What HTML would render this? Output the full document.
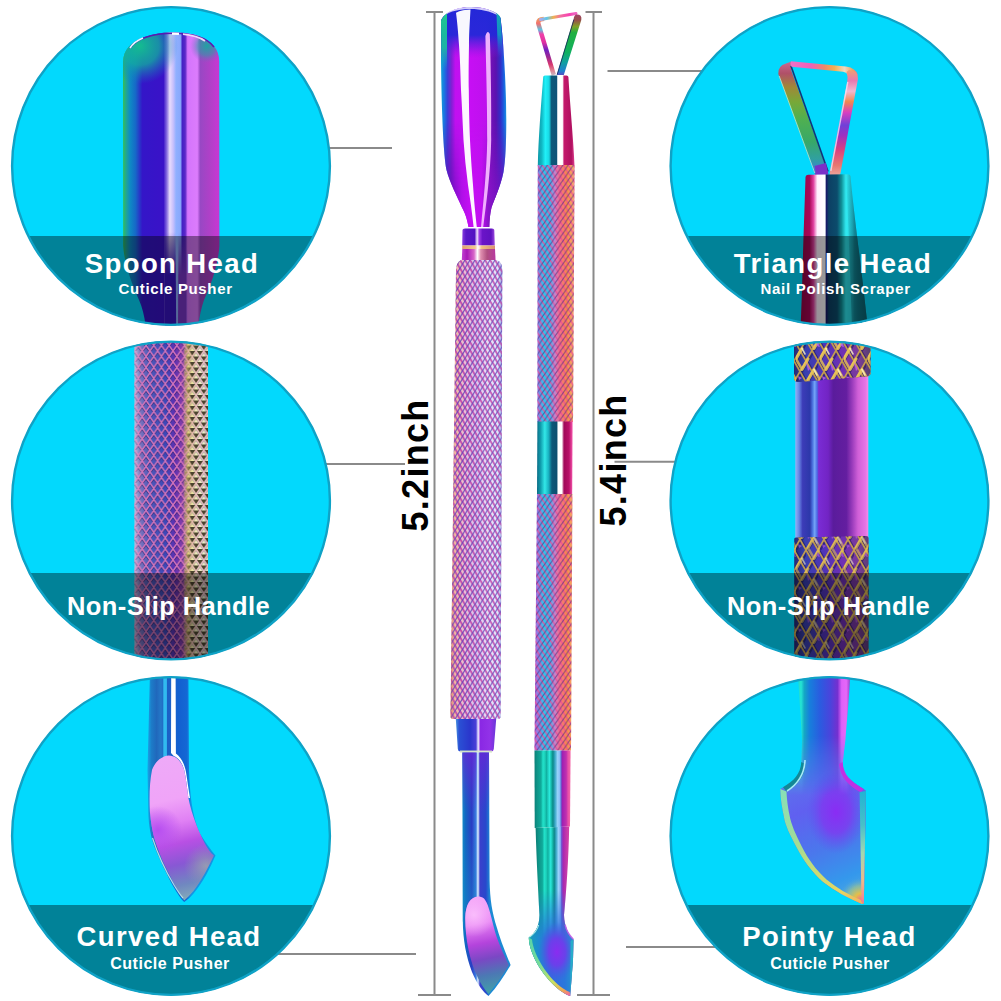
<!DOCTYPE html>
<html>
<head>
<meta charset="utf-8">
<style>
html,body{margin:0;padding:0;background:#fff;}
body{width:1001px;height:1001px;overflow:hidden;font-family:"Liberation Sans",sans-serif;}
svg{display:block;}
text{font-family:"Liberation Sans",sans-serif;font-weight:bold;}
.t1{font-size:27.5px;fill:#fff;letter-spacing:1.4px;}
.t2{font-size:15px;fill:#fff;letter-spacing:0.65px;}
.t2b{font-size:16px;fill:#fff;letter-spacing:0.55px;}
.t2c{font-size:15px;fill:#fff;letter-spacing:0.72px;}
.t3{font-size:25.5px;fill:#fff;letter-spacing:0.42px;}
.tm{font-size:36px;fill:#000;letter-spacing:1.3px;}
.ln{stroke:#8a8a8a;stroke-width:2;fill:none;}
</style>
</head>
<body>
<svg width="1001" height="1001" viewBox="0 0 1001 1001">
<defs>
<clipPath id="c1"><circle cx="171" cy="166" r="159.5"/></clipPath>
<clipPath id="c2"><circle cx="171" cy="500.5" r="159.5"/></clipPath>
<clipPath id="c3"><circle cx="171" cy="836" r="159.5"/></clipPath>
<clipPath id="c4"><circle cx="829.5" cy="166" r="159.5"/></clipPath>
<clipPath id="c5"><circle cx="829.5" cy="500.5" r="159.5"/></clipPath>
<clipPath id="c6"><circle cx="829.5" cy="836" r="159.5"/></clipPath>
<!-- spoon head -->
<linearGradient id="gSpoonH" gradientUnits="userSpaceOnUse" x1="441" y1="0" x2="506.5" y2="0">
<stop offset="0" stop-color="#14a0d8"/><stop offset="0.05" stop-color="#1a74e2"/><stop offset="0.1" stop-color="#3a40d8"/>
<stop offset="0.16" stop-color="#8020d4"/><stop offset="0.22" stop-color="#c010f0"/><stop offset="0.45" stop-color="#c60ff4"/>
<stop offset="0.69" stop-color="#be10ee"/><stop offset="0.74" stop-color="#7a10b8"/><stop offset="0.84" stop-color="#5a12b0"/>
<stop offset="0.91" stop-color="#3030c8"/><stop offset="0.96" stop-color="#1a60e0"/><stop offset="1" stop-color="#1a98e0"/>
</linearGradient>
<linearGradient id="gSpoonV" gradientUnits="userSpaceOnUse" x1="0" y1="7" x2="0" y2="58">
<stop offset="0" stop-color="#2428d8" stop-opacity="1"/><stop offset="0.55" stop-color="#2428d8" stop-opacity="0.96"/>
<stop offset="0.78" stop-color="#5020dc" stop-opacity="0.5"/><stop offset="1" stop-color="#8a18e0" stop-opacity="0"/>
</linearGradient>
<linearGradient id="gSpoonG" gradientUnits="userSpaceOnUse" x1="0" y1="14" x2="0" y2="70">
<stop offset="0" stop-color="#20c890" stop-opacity="1"/><stop offset="0.6" stop-color="#18c0a0" stop-opacity="0.9"/><stop offset="1" stop-color="#18b0c0" stop-opacity="0"/>
</linearGradient>
<linearGradient id="gNeckR" gradientUnits="userSpaceOnUse" x1="0" y1="885" x2="0" y2="925">
<stop offset="0" stop-color="#2090d8" stop-opacity="0"/><stop offset="1" stop-color="#1c90d0" stop-opacity="0.7"/>
</linearGradient>
<linearGradient id="gCollarA" gradientUnits="userSpaceOnUse" x1="462" y1="0" x2="495" y2="0">
<stop offset="0" stop-color="#8a40e0"/><stop offset="0.12" stop-color="#5a18c8"/><stop offset="0.38" stop-color="#5212c2"/>
<stop offset="0.46" stop-color="#f4e8ff"/><stop offset="0.52" stop-color="#a040e8"/><stop offset="0.62" stop-color="#6a14c8"/>
<stop offset="0.88" stop-color="#6012c0"/><stop offset="1" stop-color="#a050e0"/>
</linearGradient>
<linearGradient id="gRing" gradientUnits="userSpaceOnUse" x1="462" y1="0" x2="495" y2="0">
<stop offset="0" stop-color="#e0a070"/><stop offset="0.4" stop-color="#f0c890"/><stop offset="0.48" stop-color="#ffffff"/>
<stop offset="0.6" stop-color="#f0c080"/><stop offset="1" stop-color="#d89070"/>
</linearGradient>
<linearGradient id="gCollarB" gradientUnits="userSpaceOnUse" x1="462" y1="0" x2="495.5" y2="0">
<stop offset="0" stop-color="#c040d0"/><stop offset="0.15" stop-color="#a818b8"/><stop offset="0.36" stop-color="#d868c8"/>
<stop offset="0.46" stop-color="#ffffff"/><stop offset="0.56" stop-color="#e090b0"/><stop offset="0.75" stop-color="#b05080"/>
<stop offset="1" stop-color="#b838a0"/>
</linearGradient>
<linearGradient id="gHandL" gradientUnits="userSpaceOnUse" x1="450" y1="0" x2="503" y2="0">
<stop offset="0" stop-color="#e09070"/><stop offset="0.1" stop-color="#f0b8a0"/><stop offset="0.28" stop-color="#e8c0d8"/>
<stop offset="0.5" stop-color="#d8c0ec"/><stop offset="0.72" stop-color="#e4dcf4"/><stop offset="0.9" stop-color="#dce4fc"/>
<stop offset="1" stop-color="#98a4e0"/>
</linearGradient>
<linearGradient id="gHandLshade" gradientUnits="userSpaceOnUse" x1="450" y1="0" x2="503" y2="0">
<stop offset="0" stop-color="#c06040" stop-opacity="0.25"/><stop offset="0.15" stop-color="#fff" stop-opacity="0"/>
<stop offset="0.7" stop-color="#fff" stop-opacity="0.12"/><stop offset="0.9" stop-color="#fff" stop-opacity="0.1"/>
<stop offset="1" stop-color="#6070c0" stop-opacity="0.25"/>
</linearGradient>
<pattern id="pKnurlL" patternUnits="userSpaceOnUse" width="5" height="8.2" patternTransform="translate(450 260)">
<path d="M-1 -1.64 L6 9.84 M-6 -1.64 L1 9.84 M4 -1.64 L11 9.84" stroke="#c040a8" stroke-width="1.9" fill="none" opacity="0.9"/>
<path d="M6 -1.64 L-1 9.84 M1 -1.64 L-6 9.84 M11 -1.64 L4 9.84" stroke="#6040b8" stroke-width="1.25" fill="none" opacity="0.85"/>
</pattern>
<linearGradient id="gLowCollar" gradientUnits="userSpaceOnUse" x1="456" y1="0" x2="496" y2="0">
<stop offset="0" stop-color="#4a90e0"/><stop offset="0.08" stop-color="#2a50d4"/><stop offset="0.35" stop-color="#2a36cc"/>
<stop offset="0.5" stop-color="#4a40d8"/><stop offset="0.555" stop-color="#f0f0ff"/><stop offset="0.61" stop-color="#8a28e4"/>
<stop offset="0.85" stop-color="#9232e8"/><stop offset="1" stop-color="#6a38d8"/>
</linearGradient>
<linearGradient id="gShaftL" gradientUnits="userSpaceOnUse" x1="462" y1="0" x2="490" y2="0">
<stop offset="0" stop-color="#1590c8"/><stop offset="0.12" stop-color="#1268c2"/><stop offset="0.35" stop-color="#2a3cc4"/>
<stop offset="0.5" stop-color="#3a7ee0"/><stop offset="0.57" stop-color="#e4f4ff"/><stop offset="0.64" stop-color="#3a40cc"/>
<stop offset="0.85" stop-color="#2848cc"/><stop offset="1" stop-color="#1c8ad4"/>
</linearGradient>
<linearGradient id="gCurvedFace" gradientUnits="userSpaceOnUse" x1="474" y1="896" x2="494" y2="994">
<stop offset="0" stop-color="#f4a4f8"/><stop offset="0.28" stop-color="#e884f4"/><stop offset="0.48" stop-color="#b444dc"/>
<stop offset="0.64" stop-color="#7a48c4"/><stop offset="0.8" stop-color="#4c78b4"/><stop offset="1" stop-color="#40a4a8"/>
</linearGradient>
<radialGradient id="gCurvedFace2" gradientUnits="userSpaceOnUse" cx="474" cy="915" r="22">
<stop offset="0" stop-color="#ffd0ff" stop-opacity="0.7"/><stop offset="1" stop-color="#ffd0ff" stop-opacity="0"/>
</radialGradient>
<!-- triangle tool -->
<linearGradient id="gTriL" gradientUnits="userSpaceOnUse" x1="0" y1="18" x2="0" y2="76">
<stop offset="0" stop-color="#f0a060"/><stop offset="0.1" stop-color="#f07070"/><stop offset="0.2" stop-color="#60c0e0"/>
<stop offset="0.28" stop-color="#f040a8"/><stop offset="0.42" stop-color="#e030a0"/><stop offset="0.55" stop-color="#7020c0"/>
<stop offset="0.68" stop-color="#a02890"/><stop offset="0.8" stop-color="#d83870"/><stop offset="0.9" stop-color="#e08090"/>
<stop offset="1" stop-color="#c0c0c8"/>
</linearGradient>
<linearGradient id="gTriTop" gradientUnits="userSpaceOnUse" x1="540" y1="0" x2="574" y2="0">
<stop offset="0" stop-color="#b0a8e8"/><stop offset="0.2" stop-color="#60c8e8"/><stop offset="0.4" stop-color="#f0b050"/>
<stop offset="0.6" stop-color="#f070a0"/><stop offset="0.85" stop-color="#f840b0"/><stop offset="1" stop-color="#f060c0"/>
</linearGradient>
<linearGradient id="gTriR" gradientUnits="userSpaceOnUse" x1="0" y1="14" x2="0" y2="76">
<stop offset="0" stop-color="#a04068"/><stop offset="0.1" stop-color="#98504a"/><stop offset="0.2" stop-color="#80a028"/>
<stop offset="0.3" stop-color="#20b040"/><stop offset="0.62" stop-color="#10b060"/><stop offset="0.78" stop-color="#10a0a0"/>
<stop offset="0.92" stop-color="#2080d0"/><stop offset="1" stop-color="#6040c0"/>
</linearGradient>
<linearGradient id="gCone" gradientUnits="userSpaceOnUse" x1="538" y1="0" x2="575" y2="0">
<stop offset="0" stop-color="#0f98a8"/><stop offset="0.1" stop-color="#10b8c4"/><stop offset="0.2" stop-color="#20f0f8"/>
<stop offset="0.3" stop-color="#18d8e4"/><stop offset="0.365" stop-color="#0c5a7a"/><stop offset="0.5" stop-color="#0e5478"/>
<stop offset="0.535" stop-color="#ffffff"/><stop offset="0.66" stop-color="#ffffff"/><stop offset="0.705" stop-color="#c41a6c"/>
<stop offset="0.9" stop-color="#b01060"/><stop offset="1" stop-color="#e64696"/>
</linearGradient>
<linearGradient id="gBandR" gradientUnits="userSpaceOnUse" x1="537" y1="0" x2="572.5" y2="0">
<stop offset="0" stop-color="#0c6c86"/><stop offset="0.1" stop-color="#109cac"/><stop offset="0.22" stop-color="#32e8e8"/>
<stop offset="0.33" stop-color="#18b0c0"/><stop offset="0.42" stop-color="#0c5878"/><stop offset="0.55" stop-color="#0c5070"/>
<stop offset="0.6" stop-color="#ffffff"/><stop offset="0.7" stop-color="#ffffff"/><stop offset="0.76" stop-color="#a00858"/>
<stop offset="0.9" stop-color="#b81068"/><stop offset="1" stop-color="#f454ac"/>
</linearGradient>
<linearGradient id="gHandR" gradientUnits="userSpaceOnUse" x1="534" y1="0" x2="575" y2="0">
<stop offset="0" stop-color="#c060d8"/><stop offset="0.1" stop-color="#8a80e4"/><stop offset="0.24" stop-color="#30c4e8"/>
<stop offset="0.4" stop-color="#48b0e8"/><stop offset="0.5" stop-color="#b888d4"/><stop offset="0.62" stop-color="#f47088"/>
<stop offset="0.8" stop-color="#f88848"/><stop offset="0.94" stop-color="#f8a868"/><stop offset="1" stop-color="#f08898"/>
</linearGradient>
<pattern id="pKnurlR" patternUnits="userSpaceOnUse" width="5.2" height="7.6" patternTransform="translate(537 165)">
<path d="M-1 -1.46 L6.2 9.06 M-6.2 -1.46 L1 9.06 M4.2 -1.46 L11.4 9.06" stroke="#ee4c98" stroke-width="1.4" fill="none" opacity="0.85"/>
<path d="M6.2 -1.46 L-1 9.06 M1 -1.46 L-6.2 9.06 M11.4 -1.46 L4.2 9.06" stroke="#38247c" stroke-width="1" fill="none" opacity="0.55"/>
</pattern>
<linearGradient id="gShaftR" gradientUnits="userSpaceOnUse" x1="534.5" y1="0" x2="570.6" y2="0">
<stop offset="0" stop-color="#0c8078"/><stop offset="0.07" stop-color="#0e9488"/><stop offset="0.18" stop-color="#10aa9a"/>
<stop offset="0.235" stop-color="#22e2ca"/><stop offset="0.29" stop-color="#1cd0ba"/><stop offset="0.33" stop-color="#10b0a0"/>
<stop offset="0.415" stop-color="#2aeadc"/><stop offset="0.457" stop-color="#18c0b0"/><stop offset="0.51" stop-color="#0c8888"/>
<stop offset="0.57" stop-color="#3aa8c8"/><stop offset="0.64" stop-color="#98d4fa"/><stop offset="0.706" stop-color="#88b8f4"/>
<stop offset="0.735" stop-color="#6060d0"/><stop offset="0.77" stop-color="#a020b0"/><stop offset="0.88" stop-color="#c030b0"/>
<stop offset="0.93" stop-color="#e850a8"/><stop offset="1" stop-color="#f468a8"/>
</linearGradient>
<linearGradient id="gShaftR2" gradientUnits="userSpaceOnUse" x1="536" y1="0" x2="568" y2="0">
<stop offset="0" stop-color="#0c8078"/><stop offset="0.08" stop-color="#0e9488"/><stop offset="0.2" stop-color="#10aa9a"/>
<stop offset="0.26" stop-color="#22e2ca"/><stop offset="0.32" stop-color="#1cd0ba"/><stop offset="0.37" stop-color="#10b0a0"/>
<stop offset="0.46" stop-color="#2aeadc"/><stop offset="0.51" stop-color="#18c0b0"/><stop offset="0.57" stop-color="#0c8888"/>
<stop offset="0.63" stop-color="#3aa8c8"/><stop offset="0.7" stop-color="#98d4fa"/><stop offset="0.76" stop-color="#88b0f0"/>
<stop offset="0.8" stop-color="#7050d0"/><stop offset="0.85" stop-color="#a828b0"/><stop offset="1" stop-color="#d040a8"/>
</linearGradient>
<linearGradient id="gBlade" gradientUnits="userSpaceOnUse" x1="529" y1="0" x2="574" y2="0">
<stop offset="0" stop-color="#18a0b8"/><stop offset="0.2" stop-color="#1c8cd0"/><stop offset="0.5" stop-color="#3468e0"/>
<stop offset="0.8" stop-color="#2a78dc"/><stop offset="1" stop-color="#2498d0"/>
</linearGradient>
<radialGradient id="gBladeC" gradientUnits="userSpaceOnUse" cx="557" cy="952" r="30" gradientTransform="translate(557 952) scale(0.62 1) translate(-557 -952)">
<stop offset="0" stop-color="#8a2cf0" stop-opacity="1"/><stop offset="0.45" stop-color="#7438ec" stop-opacity="0.85"/><stop offset="1" stop-color="#4060e0" stop-opacity="0"/>
</radialGradient>
<linearGradient id="gBladeEdge" gradientUnits="userSpaceOnUse" x1="529" y1="938" x2="570" y2="996">
<stop offset="0" stop-color="#58d4a8"/><stop offset="0.4" stop-color="#78dc98"/><stop offset="0.7" stop-color="#c8e060"/>
<stop offset="0.88" stop-color="#f0a850"/><stop offset="1" stop-color="#f060a8"/>
</linearGradient>
<linearGradient id="gSpoonH2" gradientUnits="userSpaceOnUse" x1="441" y1="0" x2="506.5" y2="0">
<stop offset="0" stop-color="#5a12b8"/><stop offset="0.15" stop-color="#6a10bc"/><stop offset="0.32" stop-color="#b010e8"/>
<stop offset="0.45" stop-color="#c60ff4"/><stop offset="0.62" stop-color="#c010f0"/><stop offset="0.72" stop-color="#8a14c8"/>
<stop offset="0.88" stop-color="#7212c0"/><stop offset="1" stop-color="#5a12b8"/>
</linearGradient>
<linearGradient id="gMSpoon" gradientUnits="userSpaceOnUse" x1="0" y1="120" x2="0" y2="195">
<stop offset="0" stop-color="#000"/><stop offset="1" stop-color="#fff"/></linearGradient>
<mask id="mSpoonLow"><rect x="430" y="0" width="90" height="240" fill="url(#gMSpoon)"/></mask>
<linearGradient id="gShaftLtop" gradientUnits="userSpaceOnUse" x1="0" y1="752" x2="0" y2="812">
<stop offset="0" stop-color="#6a24d8" stop-opacity="0.75"/><stop offset="1" stop-color="#6a24d8" stop-opacity="0"/></linearGradient>
<linearGradient id="gShaftLbot" gradientUnits="userSpaceOnUse" x1="0" y1="830" x2="0" y2="930">
<stop offset="0" stop-color="#1494c8" stop-opacity="0"/><stop offset="1" stop-color="#1494c8" stop-opacity="0.55"/></linearGradient>
<linearGradient id="gBladeTopFade" gradientUnits="userSpaceOnUse" x1="0" y1="890" x2="0" y2="938">
<stop offset="0" stop-color="#000"/><stop offset="1" stop-color="#fff"/></linearGradient>
<mask id="mBladeTop"><rect x="520" y="820" width="70" height="181" fill="url(#gBladeTopFade)"/></mask>
<linearGradient id="gSpoonT" gradientUnits="userSpaceOnUse" x1="0" y1="13" x2="0" y2="56">
<stop offset="0" stop-color="#10b4b4" stop-opacity="0.9"/><stop offset="0.5" stop-color="#10a8c0" stop-opacity="0.8"/><stop offset="1" stop-color="#1480e0" stop-opacity="0"/></linearGradient>
<linearGradient id="gSp1" gradientUnits="userSpaceOnUse" x1="123" y1="0" x2="219.5" y2="0">
<stop offset="0" stop-color="#34c054"/><stop offset="0.03" stop-color="#22a890"/><stop offset="0.07" stop-color="#0e8cc4"/>
<stop offset="0.13" stop-color="#1668c8"/><stop offset="0.2" stop-color="#3416c8"/><stop offset="0.42" stop-color="#3a12c8"/>
<stop offset="0.455" stop-color="#8a70e0"/><stop offset="0.485" stop-color="#e8dcfc"/><stop offset="0.52" stop-color="#c8c0fc"/>
<stop offset="0.55" stop-color="#90b0ff"/><stop offset="0.595" stop-color="#88a8fc"/><stop offset="0.615" stop-color="#4420c4"/>
<stop offset="0.645" stop-color="#5a28c8"/><stop offset="0.67" stop-color="#d474fc"/><stop offset="0.77" stop-color="#dc7cfc"/>
<stop offset="0.8" stop-color="#9848c4"/><stop offset="0.9" stop-color="#b040c8"/><stop offset="1" stop-color="#c838d4"/>
</linearGradient>
<radialGradient id="gSp1top" gradientUnits="userSpaceOnUse" cx="140" cy="46" r="38">
<stop offset="0" stop-color="#14bc90" stop-opacity="1"/><stop offset="0.5" stop-color="#12aca0" stop-opacity="0.8"/><stop offset="1" stop-color="#1080c0" stop-opacity="0"/>
</radialGradient>
<radialGradient id="gSp1topR" gradientUnits="userSpaceOnUse" cx="207" cy="46" r="17">
<stop offset="0" stop-color="#18a8a0" stop-opacity="0.95"/><stop offset="0.55" stop-color="#3098a8" stop-opacity="0.6"/><stop offset="1" stop-color="#8060c0" stop-opacity="0"/>
</radialGradient>
<linearGradient id="gSp1lo" gradientUnits="userSpaceOnUse" x1="0" y1="232" x2="0" y2="275">
<stop offset="0" stop-color="#3a14c4" stop-opacity="0"/><stop offset="1" stop-color="#3a14c4" stop-opacity="1"/></linearGradient>
<linearGradient id="gSp1lo2" gradientUnits="userSpaceOnUse" x1="0" y1="232" x2="0" y2="275">
<stop offset="0" stop-color="#6a30c8" stop-opacity="0"/><stop offset="1" stop-color="#7a38c8" stop-opacity="1"/></linearGradient>
<!-- circle 2 -->
<linearGradient id="gH2" gradientUnits="userSpaceOnUse" x1="134.5" y1="0" x2="208" y2="0">
<stop offset="0" stop-color="#a8a4d0"/><stop offset="0.06" stop-color="#8078c0"/><stop offset="0.2" stop-color="#5058b8"/>
<stop offset="0.42" stop-color="#3c48b8"/><stop offset="0.55" stop-color="#6030b0"/><stop offset="0.66" stop-color="#8840a8"/>
<stop offset="0.71" stop-color="#c8a860"/><stop offset="0.8" stop-color="#e8e4b0"/><stop offset="0.93" stop-color="#ecECc8"/><stop offset="1" stop-color="#b8b8a0"/>
</linearGradient>
<pattern id="pK2" patternUnits="userSpaceOnUse" width="7.7" height="11" patternTransform="translate(134.5 340)">
<path d="M-1.54 -2.2 L9.24 13.2 M-1.54 13.2 L9.24 -2.2" stroke="#201860" stroke-width="1.5" fill="none" opacity="0.6" transform="translate(0 1.3)"/>
<path d="M-1.54 -2.2 L9.24 13.2 M-1.54 13.2 L9.24 -2.2" stroke="#dc78bc" stroke-width="1.5" fill="none" opacity="0.92"/>
</pattern>
<pattern id="pK2b" patternUnits="userSpaceOnUse" width="7.7" height="11" patternTransform="translate(134.5 340)">
<path d="M-3 5.6 L3 5.6 L0 10Z M4.7 5.6 L10.7 5.6 L7.7 10Z M0.85 0.1 L6.85 0.1 L3.85 4.5Z M0.85 11.1 L6.85 11.1 L3.85 15.5Z M0.85 -10.9 L6.85 -10.9 L3.85 -6.5Z" fill="#3e3424" opacity="0.92"/>
</pattern>
<mask id="mK2r"><rect x="0" y="330" width="340" height="340" fill="#000"/><rect x="184" y="330" width="26" height="340" fill="url(#gM2)"/></mask>
<linearGradient id="gM2" gradientUnits="userSpaceOnUse" x1="184" y1="0" x2="208" y2="0">
<stop offset="0" stop-color="#000"/><stop offset="0.3" stop-color="#fff"/><stop offset="1" stop-color="#fff"/>
</linearGradient>
<linearGradient id="gH2s" gradientUnits="userSpaceOnUse" x1="134.5" y1="0" x2="208" y2="0">
<stop offset="0" stop-color="#fff" stop-opacity="0.25"/><stop offset="0.1" stop-color="#fff" stop-opacity="0"/>
<stop offset="0.66" stop-color="#f0e090" stop-opacity="0"/><stop offset="0.74" stop-color="#f0e088" stop-opacity="0.6"/>
<stop offset="0.85" stop-color="#f4f0c0" stop-opacity="0.55"/><stop offset="1" stop-color="#f0f0d0" stop-opacity="0.5"/>
</linearGradient>
<!-- circle 5 -->
<linearGradient id="gB5" gradientUnits="userSpaceOnUse" x1="795.3" y1="0" x2="868.3" y2="0">
<stop offset="0" stop-color="#98b0f4"/><stop offset="0.05" stop-color="#6888e4"/><stop offset="0.1" stop-color="#3c3cb8"/>
<stop offset="0.2" stop-color="#2c38aa"/><stop offset="0.235" stop-color="#4a70dc"/><stop offset="0.265" stop-color="#74a4f8"/>
<stop offset="0.3" stop-color="#4a68e4"/><stop offset="0.32" stop-color="#7a2cd4"/><stop offset="0.45" stop-color="#7224c4"/>
<stop offset="0.52" stop-color="#5a1c9c"/><stop offset="0.7" stop-color="#641ea0"/><stop offset="0.78" stop-color="#9a3cbc"/>
<stop offset="0.86" stop-color="#d060d8"/><stop offset="0.96" stop-color="#e474e4"/><stop offset="1" stop-color="#f48cec"/>
</linearGradient>
<linearGradient id="gK5" gradientUnits="userSpaceOnUse" x1="794" y1="0" x2="870" y2="0">
<stop offset="0" stop-color="#282870"/><stop offset="0.15" stop-color="#3840b0"/><stop offset="0.4" stop-color="#5034b8"/>
<stop offset="0.65" stop-color="#7030b4"/><stop offset="0.85" stop-color="#7a3c98"/><stop offset="1" stop-color="#584070"/>
</linearGradient>
<pattern id="pK5" patternUnits="userSpaceOnUse" width="12" height="21" patternTransform="translate(794 340)">
<path d="M-2 -3.5 L14 24.5 M-2 24.5 L14 -3.5" stroke="#1c1650" stroke-width="2.8" fill="none" opacity="0.55" transform="translate(1.3 1)"/>
</pattern>
<pattern id="pK5g" patternUnits="userSpaceOnUse" width="12" height="21" patternTransform="translate(794 340)">
<path d="M-2 -3.5 L14 24.5 M-2 24.5 L14 -3.5" stroke="#d0a848" stroke-width="1.7" fill="none" opacity="0.9"/>
</pattern>
<!-- circle 3 -->
<linearGradient id="gS3" gradientUnits="userSpaceOnUse" x1="148" y1="0" x2="191" y2="0">
<stop offset="0" stop-color="#18a0e4"/><stop offset="0.08" stop-color="#1c7cc8"/><stop offset="0.2" stop-color="#2068bc"/>
<stop offset="0.3" stop-color="#2478c8"/><stop offset="0.4" stop-color="#1c60c0"/><stop offset="0.55" stop-color="#1a62cc"/>
<stop offset="0.7" stop-color="#1260d0"/><stop offset="0.9" stop-color="#1468d4"/><stop offset="1" stop-color="#1494e4"/>
</linearGradient>
<linearGradient id="gF3" gradientUnits="userSpaceOnUse" x1="162" y1="756" x2="196" y2="900">
<stop offset="0" stop-color="#eeaaf8"/><stop offset="0.3" stop-color="#f0a4f8"/><stop offset="0.46" stop-color="#e080f4"/>
<stop offset="0.6" stop-color="#b850e4"/><stop offset="0.74" stop-color="#8858d4"/><stop offset="0.88" stop-color="#7088c0"/>
<stop offset="1" stop-color="#88b0b8"/>
</linearGradient>
<radialGradient id="gF3b" gradientUnits="userSpaceOnUse" cx="158" cy="830" r="24">
<stop offset="0" stop-color="#b44cf0" stop-opacity="0.95"/><stop offset="1" stop-color="#b44cf0" stop-opacity="0"/>
</radialGradient>
<radialGradient id="gF3c" gradientUnits="userSpaceOnUse" cx="206" cy="866" r="22">
<stop offset="0" stop-color="#98a0b0" stop-opacity="0.9"/><stop offset="1" stop-color="#9098b0" stop-opacity="0"/>
</radialGradient>
<!-- circle 4 -->
<linearGradient id="gT4L" gradientUnits="userSpaceOnUse" x1="0" y1="62" x2="0" y2="176">
<stop offset="0" stop-color="#c86890"/><stop offset="0.1" stop-color="#b05068"/><stop offset="0.22" stop-color="#a08838"/>
<stop offset="0.35" stop-color="#78a838"/><stop offset="0.5" stop-color="#50b050"/><stop offset="0.7" stop-color="#38a868"/>
<stop offset="0.85" stop-color="#30a0a0"/><stop offset="0.93" stop-color="#3888c8"/><stop offset="1" stop-color="#7a30c8"/>
</linearGradient>
<linearGradient id="gT4T" gradientUnits="userSpaceOnUse" x1="791" y1="0" x2="858" y2="0">
<stop offset="0" stop-color="#f070c8"/><stop offset="0.3" stop-color="#f060b8"/><stop offset="0.5" stop-color="#f08868"/>
<stop offset="0.65" stop-color="#f4b050"/><stop offset="0.8" stop-color="#f0d8c0"/><stop offset="0.92" stop-color="#f0a060"/><stop offset="1" stop-color="#e070a0"/>
</linearGradient>
<linearGradient id="gT4R" gradientUnits="userSpaceOnUse" x1="0" y1="70" x2="0" y2="176">
<stop offset="0" stop-color="#f0a070"/><stop offset="0.1" stop-color="#e878b0"/><stop offset="0.2" stop-color="#f0b8d0"/>
<stop offset="0.3" stop-color="#f08850"/><stop offset="0.4" stop-color="#d840c0"/><stop offset="0.52" stop-color="#7040d8"/>
<stop offset="0.62" stop-color="#a030c0"/><stop offset="0.75" stop-color="#d84080"/><stop offset="0.9" stop-color="#e87870"/><stop offset="1" stop-color="#f0a8a0"/>
</linearGradient>
<linearGradient id="gC4" gradientUnits="userSpaceOnUse" x1="803" y1="0" x2="858" y2="0">
<stop offset="0" stop-color="#980848"/><stop offset="0.12" stop-color="#a80858"/><stop offset="0.19" stop-color="#e040a0"/>
<stop offset="0.26" stop-color="#fff0ff"/><stop offset="0.4" stop-color="#ffffff"/><stop offset="0.425" stop-color="#181868"/>
<stop offset="0.47" stop-color="#0c4064"/><stop offset="0.62" stop-color="#0c4c6c"/><stop offset="0.7" stop-color="#109098"/>
<stop offset="0.78" stop-color="#30e8f0"/><stop offset="0.9" stop-color="#28d8e4"/><stop offset="1" stop-color="#108c9c"/>
</linearGradient>
<linearGradient id="gC4r" gradientUnits="userSpaceOnUse" x1="846" y1="0" x2="868" y2="0">
<stop offset="0" stop-color="#108090" stop-opacity="0"/><stop offset="0.4" stop-color="#0e7888" stop-opacity="0.8"/><stop offset="1" stop-color="#0c6070" stop-opacity="1"/>
</linearGradient>
<!-- circle 6 -->
<linearGradient id="gS6" gradientUnits="userSpaceOnUse" x1="798" y1="0" x2="850" y2="0">
<stop offset="0" stop-color="#20dcc8"/><stop offset="0.06" stop-color="#24e4d4"/><stop offset="0.12" stop-color="#14a8c4"/>
<stop offset="0.22" stop-color="#1680dc"/><stop offset="0.42" stop-color="#2a5ce0"/><stop offset="0.62" stop-color="#4a44dc"/>
<stop offset="0.76" stop-color="#7430d0"/><stop offset="0.84" stop-color="#e060f8"/><stop offset="0.93" stop-color="#e468f8"/><stop offset="1" stop-color="#9a40d0"/>
</linearGradient>
<linearGradient id="gB6" gradientUnits="userSpaceOnUse" x1="790" y1="770" x2="850" y2="900">
<stop offset="0" stop-color="#5a78ec"/><stop offset="0.3" stop-color="#6060f0"/><stop offset="0.6" stop-color="#4a78ec"/>
<stop offset="0.85" stop-color="#3498ec"/><stop offset="1" stop-color="#50a8e0"/>
</linearGradient>
<radialGradient id="gB6c" gradientUnits="userSpaceOnUse" cx="836" cy="812" r="42" gradientTransform="translate(836 812) scale(0.7 1) translate(-836 -812)">
<stop offset="0" stop-color="#8a2cf4" stop-opacity="1"/><stop offset="0.5" stop-color="#8038f0" stop-opacity="0.8"/><stop offset="1" stop-color="#6050f0" stop-opacity="0"/>
</radialGradient>
<radialGradient id="gB6tip" gradientUnits="userSpaceOnUse" cx="861" cy="900" r="22">
<stop offset="0" stop-color="#f07090" stop-opacity="1"/><stop offset="0.3" stop-color="#ecc040" stop-opacity="0.95"/><stop offset="0.65" stop-color="#c0d070" stop-opacity="0.5"/><stop offset="1" stop-color="#60b0d0" stop-opacity="0"/>
</radialGradient>
<linearGradient id="gE6" gradientUnits="userSpaceOnUse" x1="781" y1="790" x2="862" y2="904">
<stop offset="0" stop-color="#88e0b8"/><stop offset="0.35" stop-color="#a0dc98"/><stop offset="0.6" stop-color="#c4dc78"/>
<stop offset="0.85" stop-color="#e8d460"/><stop offset="1" stop-color="#f0b060"/>
</linearGradient>
<linearGradient id="gR6" gradientUnits="userSpaceOnUse" x1="0" y1="791" x2="0" y2="904">
<stop offset="0" stop-color="#20b4d4"/><stop offset="0.3" stop-color="#48c0c8"/><stop offset="0.55" stop-color="#a0d8b0"/>
<stop offset="0.8" stop-color="#f0b888"/><stop offset="1" stop-color="#f07898"/>
</linearGradient>
<linearGradient id="gM6" gradientUnits="userSpaceOnUse" x1="0" y1="735" x2="0" y2="795">
<stop offset="0" stop-color="#000"/><stop offset="1" stop-color="#fff"/></linearGradient>
<mask id="mB6"><rect x="660" y="660" width="341" height="341" fill="url(#gM6)"/></mask>
<pattern id="pK5h" patternUnits="userSpaceOnUse" width="24" height="42" patternTransform="translate(796 338)">
<path d="M0 21 L6 10.5 M12 42 L18 31.5 M18 10.5 L24 0 M6 31.5 L12 21" stroke="#f0cc58" stroke-width="3" fill="none" opacity="0.85" stroke-linecap="round"/>
<path d="M12 0 L17 8.7 M0 21 L5 29.7 M19 33 L24 42" stroke="#e8c050" stroke-width="2.6" fill="none" opacity="0.8" stroke-linecap="round"/>
<path d="M6 10.5 L9 16 M18 31.5 L21 37" stroke="#fff4c0" stroke-width="1.6" fill="none" opacity="0.8" stroke-linecap="round"/>
<path d="M10 24 L14 31 L12 33Z M22 4 L24 9 L20 8Z M2 38 L6 40 L3 42Z" fill="#c060e8" opacity="0.8"/>
</pattern>

</defs>
<rect width="1001" height="1001" fill="#fff"/>

<!-- leader lines -->
<g class="ln">
<path d="M328 148H392"/>
<path d="M326 464H405"/>
<path d="M276 954H416"/>
<path d="M607.5 71H705"/>
<path d="M614.5 461.7H675"/>
<path d="M626 947H720"/>
<!-- measure lines -->
<path d="M434.5 12V995"/>
<path d="M426 12H443"/>
<path d="M418 995H451"/>
<path d="M593.5 12V995"/>
<path d="M585.5 12H602"/>
<path d="M577 995H610"/>
</g>

<!-- CIRCLE 1 -->
<g clip-path="url(#c1)">
<rect x="0" y="0" width="340" height="340" fill="#02d9fd"/>
<g>
<path id="sp1" d="M123 62 C123.5 50 130 42 145 37 C156 33.5 165 32.3 173 32.3 C182 32.3 192 33.5 199 36 C213 41.5 219 50 219.2 61 L219.4 246 C218 266 210.5 286 204 300 C201 309 199 318 198 330 L146 330 C145 318 142.5 308 139 300 C132.5 285 124.5 266 123.2 246 Z" fill="url(#gSp1)"/>
<path d="M123 62 C123.5 50 130 42 145 37 C156 33.5 165 32.3 173 32.3 C182 32.3 192 33.5 199 36 C213 41.5 219 50 219.2 61 L219.4 246 C218 266 210.5 286 204 300 C201 309 199 318 198 330 L146 330 C145 318 142.5 308 139 300 C132.5 285 124.5 266 123.2 246 Z" fill="url(#gSp1top)"/>
<path d="M123 62 C123.5 50 130 42 145 37 C156 33.5 165 32.3 173 32.3 C182 32.3 192 33.5 199 36 C213 41.5 219 50 219.2 61 L219.4 246 C218 266 210.5 286 204 300 C201 309 199 318 198 330 L146 330 C145 318 142.5 308 139 300 C132.5 285 124.5 266 123.2 246 Z" fill="url(#gSp1topR)"/>
<path d="M165 232 L175.5 232 L176.2 330 L165 330Z" fill="url(#gSp1lo)"/>
<path d="M178.5 232 L186 232 L186 330 L178 330Z" fill="url(#gSp1lo2)"/>
<!-- rim -->
<path d="M130 48 C136 39 152 33.5 173 33.3 C194 33.5 208 39 214 47" fill="none" stroke="#5a1ab0" stroke-width="1.6"/>
<path d="M172 33.6 L179 33.8" stroke="#fff" stroke-width="2.2"/>
<path d="M183 34.2 C192 35 200 37.5 205 41" stroke="#f0d8f8" stroke-width="1.8" fill="none"/>
<path d="M130 48 C133 43 138 40 143 38" stroke="#e8f8ff" stroke-width="1.6" fill="none"/>
</g>

<rect x="0" y="236" width="340" height="100" fill="#000" fill-opacity="0.4"/>
</g>
<circle cx="171" cy="166" r="158.9" fill="none" stroke="#0fa2c6" stroke-width="2.4"/>

<!-- CIRCLE 2 -->
<g clip-path="url(#c2)">
<rect x="0" y="330" width="340" height="340" fill="#02d9fd"/>
<g>
<rect x="134.5" y="335" width="73.5" height="330" fill="url(#gH2)"/>
<rect x="134.5" y="335" width="73.5" height="330" fill="url(#pK2)"/>
<rect x="134.5" y="335" width="73.5" height="330" fill="url(#gH2s)"/>
<rect x="134.5" y="335" width="73.5" height="330" fill="url(#pK2b)" mask="url(#mK2r)"/>
</g>

<rect x="0" y="573" width="340" height="100" fill="#000" fill-opacity="0.4"/>
</g>
<circle cx="171" cy="500.5" r="158.9" fill="none" stroke="#0fa2c6" stroke-width="2.4"/>

<!-- CIRCLE 3 -->
<g clip-path="url(#c3)">
<rect x="0" y="670" width="340" height="340" fill="#02d9fd"/>
<g>
<!-- shaft & body -->
<path d="M150 670 L188.4 670 L189 770 C190 795 192 815 199.6 833 C205 842 211 850 215.5 855.4 C210 868 203 882 194 893 C191 897 187 900 184.2 902 C181 899 177 893 173 886 C167 875 160 860 155 848 C151 838 148.5 825 148.3 812 L147.5 770 Z" fill="url(#gS3)"/>
<!-- white highlight -->
<path d="M171.2 670 L175.6 670 L175.9 753.5 C181 757 184.5 764 186 772 C187.5 781 188.5 790 190 798 L188.4 798 C187 788 186 778 184.2 770 C182 762 178 757.5 173.5 755.8 L171 753Z" fill="#fff"/>
<!-- cyan stripe -->
<rect x="163.3" y="670" width="3.6" height="88" fill="#34c4f4" opacity="0.9"/>
<!-- face -->
<path d="M168.8 755.4 C161 756 155 762 152 770 C149.5 782 149.2 798 149.9 812 C150.8 822 152.5 832 154.8 840 C158 850 162 860 166 868 C171 878 178 892 184.2 900.5 C187 898 190.5 894.5 193.5 891 C202 880 209 866 213.8 855.6 C207 850 201 836 196.8 826 C192.5 815 190 806 188.4 798 C187 788 186 778 184.2 770 C181.5 761 176 755.6 168.8 755.4Z" fill="url(#gF3)"/>
<path d="M168.8 755.4 C161 756 155 762 152 770 C149.5 782 149.2 798 149.9 812 C150.8 822 152.5 832 154.8 840 C158 850 162 860 166 868 C171 878 178 892 184.2 900.5 C187 898 190.5 894.5 193.5 891 C202 880 209 866 213.8 855.6 C207 850 201 836 196.8 826 C192.5 815 190 806 188.4 798 C187 788 186 778 184.2 770 C181.5 761 176 755.6 168.8 755.4Z" fill="url(#gF3b)"/>
<path d="M168.8 755.4 C161 756 155 762 152 770 C149.5 782 149.2 798 149.9 812 C150.8 822 152.5 832 154.8 840 C158 850 162 860 166 868 C171 878 178 892 184.2 900.5 C187 898 190.5 894.5 193.5 891 C202 880 209 866 213.8 855.6 C207 850 201 836 196.8 826 C192.5 815 190 806 188.4 798 C187 788 186 778 184.2 770 C181.5 761 176 755.6 168.8 755.4Z" fill="url(#gF3c)"/>
<!-- left rim highlight -->
<path d="M152.5 838 C157 852 165 870 174 885 C177 890 180 895 183 898" stroke="#c8f0e8" stroke-width="1.2" fill="none" opacity="0.85"/>
</g>

<rect x="0" y="905" width="340" height="100" fill="#000" fill-opacity="0.4"/>
</g>
<circle cx="171" cy="836" r="158.9" fill="none" stroke="#0fa2c6" stroke-width="2.4"/>

<!-- CIRCLE 4 -->
<g clip-path="url(#c4)">
<rect x="660" y="0" width="341" height="340" fill="#02d9fd"/>
<g>
<!-- left ribbon -->
<path d="M778.3 74 Q777.5 66 786 63.5 L791.5 61.5 Q790 66 791.5 71 L827.5 171.5 L826 176 L815.5 176 L814.5 173 Z" fill="url(#gT4L)"/>
<path d="M791 66 L828 171.5" stroke="#161660" stroke-width="1.6" fill="none" opacity="0.85"/>
<path d="M779.2 76 L814.8 173" stroke="#c8f4e0" stroke-width="1" fill="none" opacity="0.7"/>
<!-- top bar -->
<path d="M791 61.2 L846 66.5 Q856 68 857.8 75 L850 78 Q848 72.5 843 71.8 L791.5 66.8 Q789.5 64 791 61.2Z" fill="url(#gT4T)"/>
<!-- right bar -->
<path d="M849 70 Q858.5 70.5 858 79 L840.5 173 L839.5 176 L829.5 176 L830 171.5 L847.2 82 Q848 76 846.5 72Z" fill="url(#gT4R)"/>
<path d="M847.8 82 L830.8 171" stroke="#f4e0f4" stroke-width="1.4" fill="none" opacity="0.8"/>
<!-- small base of ribbon -->
<path d="M814.5 166 L826 163 L828.5 174.5 L816.5 174.5Z" fill="#7a30c8"/>
<!-- cone -->
<path d="M805.5 177 Q805.5 175 808 174.8 L847.5 174.3 Q850.3 174.3 850.5 176 C853.5 210 859 250 863.6 290 L868 330 L800.5 330 L802 290 C803 250 804.5 210 805.5 177Z" fill="url(#gC4)"/>
<path d="M805.5 177 Q805.5 175 808 174.8 L847.5 174.3 Q850.3 174.3 850.5 176 C853.5 210 859 250 863.6 290 L868 330 L852 330 C850 270 848 210 846 176Z" fill="url(#gC4r)"/>
</g>

<rect x="660" y="236" width="341" height="100" fill="#000" fill-opacity="0.4"/>
</g>
<circle cx="829.5" cy="166" r="158.9" fill="none" stroke="#0fa2c6" stroke-width="2.4"/>

<!-- CIRCLE 5 -->
<g clip-path="url(#c5)">
<rect x="660" y="330" width="341" height="340" fill="#02d9fd"/>
<g>
<!-- smooth band -->
<rect x="795.3" y="370" width="73" height="172" fill="url(#gB5)"/>
<!-- upper knurl -->
<path d="M794 335 L870.6 335 L870.6 374 Q869 377 866 376.5 L800 382 Q795 382.5 794 379Z" fill="url(#gK5)"/>
<path d="M794 335 L870.6 335 L870.6 374 Q869 377 866 376.5 L800 382 Q795 382.5 794 379Z" fill="url(#pK5)"/>
<path d="M794 335 L870.6 335 L870.6 374 Q869 377 866 376.5 L800 382 Q795 382.5 794 379Z" fill="url(#pK5g)"/>
<path d="M794 335 L870.6 335 L870.6 374 Q869 377 866 376.5 L800 382 Q795 382.5 794 379Z" fill="url(#pK5h)"/>
<!-- lower knurl -->
<path d="M794.2 539 Q794.2 537 797 537.5 L866 536 Q868.6 536 868.6 538 L868.6 670 L794.2 670Z" fill="url(#gK5)"/>
<path d="M794.2 539 Q794.2 537 797 537.5 L866 536 Q868.6 536 868.6 538 L868.6 670 L794.2 670Z" fill="url(#pK5)"/>
<path d="M794.2 539 Q794.2 537 797 537.5 L866 536 Q868.6 536 868.6 538 L868.6 670 L794.2 670Z" fill="url(#pK5g)"/>
<path d="M794.2 539 Q794.2 537 797 537.5 L866 536 Q868.6 536 868.6 538 L868.6 670 L794.2 670Z" fill="url(#pK5h)" opacity="0.7"/>
</g>

<rect x="660" y="573" width="341" height="100" fill="#000" fill-opacity="0.4"/>
</g>
<circle cx="829.5" cy="500.5" r="158.9" fill="none" stroke="#0fa2c6" stroke-width="2.4"/>

<!-- CIRCLE 6 -->
<g clip-path="url(#c6)">
<rect x="660" y="670" width="341" height="340" fill="#02d9fd"/>
<g>
<!-- shaft -->
<path d="M797.8 670 L850.4 670 C849.5 695 847 720 845.4 740 C844 752 843 760 842.6 765 C843.5 775 850 781 863.6 789 L866 791 L863.8 903.5 L862.2 904 C848 898 835 891 823 882 C812 872 803 860 796.4 847 C790 835 785 825 783.8 816 C781.5 805 780.5 797 780.3 789 L783 787.2 C794 781 800 775 801.3 765 C801.5 757 801.8 748 802 740 C801 720 799 695 797.8 670Z" fill="url(#gS6)"/>
<!-- blade face overlay -->
<g mask="url(#mB6)">
<path d="M797.8 670 L850.4 670 C849.5 695 847 720 845.4 740 C844 752 843 760 842.6 765 C843.5 775 850 781 863.6 789 L866 791 L863.8 903.5 L862.2 904 C848 898 835 891 823 882 C812 872 803 860 796.4 847 C790 835 785 825 783.8 816 C781.5 805 780.5 797 780.3 789 L783 787.2 C794 781 800 775 801.3 765 C801.5 757 801.8 748 802 740 C801 720 799 695 797.8 670Z" fill="url(#gB6)"/>
<path d="M797.8 670 L850.4 670 C849.5 695 847 720 845.4 740 C844 752 843 760 842.6 765 C843.5 775 850 781 863.6 789 L866 791 L863.8 903.5 L862.2 904 C848 898 835 891 823 882 C812 872 803 860 796.4 847 C790 835 785 825 783.8 816 C781.5 805 780.5 797 780.3 789 L783 787.2 C794 781 800 775 801.3 765 C801.5 757 801.8 748 802 740 C801 720 799 695 797.8 670Z" fill="url(#gB6c)"/>
<path d="M797.8 670 L850.4 670 C849.5 695 847 720 845.4 740 C844 752 843 760 842.6 765 C843.5 775 850 781 863.6 789 L866 791 L863.8 903.5 L862.2 904 C848 898 835 891 823 882 C812 872 803 860 796.4 847 C790 835 785 825 783.8 816 C781.5 805 780.5 797 780.3 789 L783 787.2 C794 781 800 775 801.3 765 C801.5 757 801.8 748 802 740 C801 720 799 695 797.8 670Z" fill="url(#gB6tip)"/>
</g>
<!-- left shoulder facet -->
<path d="M801.3 762 C800.5 774 794 781 783 787.2 L786.5 791.5 C797 786 804.5 777 805.3 764Z" fill="#128896"/>
<path d="M805 760 C804.5 775 798 784 787 791" stroke="#a8e8f8" stroke-width="1.6" fill="none"/>
<!-- right shoulder facet -->
<path d="M842.6 762 C843.5 775 850 781 863.6 789 L861 792.5 C849 786 840.5 778 839 764Z" fill="#c030e4"/>
<!-- left rainbow edge -->
<path d="M780.3 789 C780.5 797 781.5 805 783.8 816 C785 825 790 835 796.4 847 C803 860 812 872 823 882 C835 891 848 898 862.2 904 L861 900 C848 894.5 837 888 826.5 879.5 C816 870 808 859 801.5 846 C795.5 834 791 824 789.5 815 C787.5 805 786.8 798 786.5 791.5Z" fill="url(#gE6)"/>
<!-- right facet -->
<path d="M859.6 792 L866 791 L863.8 903.5 L861.5 901 Z" fill="url(#gR6)"/>
</g>

<rect x="660" y="905" width="341" height="100" fill="#000" fill-opacity="0.4"/>
</g>
<circle cx="829.5" cy="836" r="158.9" fill="none" stroke="#0fa2c6" stroke-width="2.4"/>

<!-- TEXT -->
<text class="t1" x="172" y="273" text-anchor="middle">Spoon Head</text>
<text class="t2" x="175.6" y="294" text-anchor="middle">Cuticle Pusher</text>
<text class="t3" x="168.6" y="615" text-anchor="middle">Non-Slip Handle</text>
<text class="t1" x="169" y="946" text-anchor="middle">Curved Head</text>
<text class="t2b" x="170" y="969" text-anchor="middle">Cuticle Pusher</text>
<text class="t1" x="833" y="273" text-anchor="middle">Triangle Head</text>
<text class="t2c" x="835.6" y="294" text-anchor="middle">Nail Polish Scraper</text>
<text class="t3" x="828.6" y="615" text-anchor="middle">Non-Slip Handle</text>
<text class="t1" x="829.5" y="946" text-anchor="middle">Pointy Head</text>
<text class="t2b" x="830" y="969" text-anchor="middle">Cuticle Pusher</text>

<text class="tm" transform="translate(428,531.5) rotate(-90)">5.2inch</text>
<text class="tm" transform="translate(625.5,526.5) rotate(-90)">5.4inch</text>

<!-- TOOLS -->
<!-- ===== SPOON TOOL (left) ===== -->
<g id="spoonTool">
<!-- spoon head -->
<path id="spoonShape" d="M441 21 C444 12 458 7 471 7 C484 7 497 11 500.5 18 C503.5 40 506.5 90 506.3 120 C506.2 145 505.5 160 503.5 172 C500.5 187 494 200 491.5 207.5 C490 214 489.5 220 489.3 227 L468.5 227 C467 218 464.5 212 462 207.5 C457 196 449.5 182 446.5 170 C443.5 155 441.5 110 441 60 Z" fill="url(#gSpoonH)"/>
<path d="M441 21 C444 12 458 7 471 7 C484 7 497 11 500.5 18 C503.5 40 506.5 90 506.3 120 C506.2 145 505.5 160 503.5 172 C500.5 187 494 200 491.5 207.5 C490 214 489.5 220 489.3 227 L468.5 227 C467 218 464.5 212 462 207.5 C457 196 449.5 182 446.5 170 C443.5 155 441.5 110 441 60 Z" fill="url(#gSpoonV)"/>
<path d="M441 21 C444 12 458 7 471 7 C484 7 497 11 500.5 18 C503.5 40 506.5 90 506.3 120 C506.2 145 505.5 160 503.5 172 C500.5 187 494 200 491.5 207.5 C490 214 489.5 220 489.3 227 L468.5 227 C467 218 464.5 212 462 207.5 C457 196 449.5 182 446.5 170 C443.5 155 441.5 110 441 60 Z" fill="url(#gSpoonH2)" mask="url(#mSpoonLow)"/>
<!-- top cap light -->
<path d="M444 16 C450 9 460 7 471 7 C483 7 494 10 499 16 C490 11 480 9 471 9 C460 9 450 11 444 16Z" fill="#f0e8ff" opacity="0.85"/>
<!-- white highlight strip -->
<path d="M456 12.8 C460 10.5 466 9.6 470.5 9.5 C469.6 25 469 35 469 45 C468.6 65 468.6 80 468.8 90 C469 110 469.4 125 470 140 C471 160 472 173 473 185 C474 200 475.5 215 476.8 227 L473.6 227 C472 212 470 198 468 185 C466 170 464.5 155 463.5 140 C462.6 122 462 106 461 90 C460.5 72 460 58 459 45 C458.2 32 457 20 456 12.8Z" fill="#fff" opacity="0.97"/>
<path d="M441 21 C442 18 444 15.5 447 13.5 L447 72 L441.6 72 Z" fill="url(#gSpoonG)"/>
<path d="M496.5 13 C498.5 14.5 500 16 500.5 18 C501.2 28 502.4 42 503 56 L498 56 Z" fill="url(#gSpoonT)"/>
<!-- second pink highlight -->
<path d="M485.4 36 Q487.5 29 489.8 34 C490.8 60 491.6 110 491.2 140 C490.5 175 486 205 483.2 227 L481 227 C483.5 200 486.8 170 487.2 140 C487.4 110 486 60 485.4 36Z" fill="#f4b8ff" opacity="0.95"/>
<!-- collar -->
<path d="M462.5 230 Q462.5 228.5 465 228.5 L492 228.5 Q494.3 228.5 494.3 230 L494.8 245.5 L462.2 245.5Z" fill="url(#gCollarA)"/>
<rect x="462.2" y="245.5" width="32.8" height="3.5" fill="url(#gRing)"/>
<path d="M462.3 249 L495 249 L495.6 260.5 L461.8 260.5Z" fill="url(#gCollarB)"/>
<!-- handle -->
<path d="M461 260 L497 260 Q502 262 502.3 270 L500.6 717 Q500.5 719 498 719 L453 719 Q450.5 719 450.5 717 L456 270 Q456.5 262 461 260Z" fill="url(#gHandL)"/>
<path d="M461 260 L497 260 Q502 262 502.3 270 L500.6 717 Q500.5 719 498 719 L453 719 Q450.5 719 450.5 717 L456 270 Q456.5 262 461 260Z" fill="url(#pKnurlL)"/>
<path d="M461 260 L497 260 Q502 262 502.3 270 L500.6 717 Q500.5 719 498 719 L453 719 Q450.5 719 450.5 717 L456 270 Q456.5 262 461 260Z" fill="url(#gHandLshade)"/>
<!-- lower collar -->
<path d="M455.8 719 L496.2 719 L493.8 749 Q493.6 751.5 491 751.5 L460.5 751.5 Q458 751.5 457.8 749Z" fill="url(#gLowCollar)"/>
<rect x="460" y="750.5" width="32" height="2.2" fill="#d8e8c8" opacity="0.9"/>
<!-- shaft + curved head body -->
<path d="M462.3 752.5 L489 752.5 L489.6 880 C490 900 492 912 497 928 C501 942 507 956 510.6 965 C504 976 497 987 488.5 996 C483 992 477 984 472 972 C466 956 463 940 462.8 921 Z" fill="url(#gShaftL)"/>
<path d="M462.3 752.5 L476.5 752.5 L476.5 812 L462.6 812Z M479.5 752.5 L489 752.5 L489.3 812 L479.5 812Z" fill="url(#gShaftLtop)"/>
<path d="M462.6 830 L476 830 L476 896 C468 899 464 908 463.5 925 L462.8 921Z" fill="url(#gShaftLbot)"/>
<!-- curved head face -->
<path d="M478 896.5 C470 897 465.5 905 465.2 918 C465.3 940 470 962 478 978 C481 984 485 990 488.5 994 C496 985 503 975 508.8 965 C503 953 497 940 494 928 C490 912 488 903 484 898.5 C482 897 480 896.5 478 896.5Z" fill="url(#gCurvedFace)"/>
<path d="M478 896.5 C470 897 465.5 905 465.2 918 C465.3 940 470 962 478 978 C481 984 485 990 488.5 994 C496 985 503 975 508.8 965 C503 953 497 940 494 928 C490 912 488 903 484 898.5 C482 897 480 896.5 478 896.5Z" fill="url(#gCurvedFace2)"/>
</g>

<!-- ===== TRIANGLE TOOL (right) ===== -->
<g id="triTool">
<!-- triangle loop -->
<path d="M553.8 75 L538.6 24.5 Q537.3 20.3 541 19.4 L544 18.8" fill="none" stroke="url(#gTriL)" stroke-width="4.4" stroke-linejoin="round" stroke-linecap="butt"/>
<path d="M540.5 19.6 L576 13.4" fill="none" stroke="url(#gTriTop)" stroke-width="3" stroke-linecap="round"/>
<path d="M576 14.6 Q582.3 14.2 581.3 20 L563.8 75 L556.8 75 L573.6 19.5 Q574 15.5 576 14.6Z" fill="url(#gTriR)"/>
<path d="M573.9 19.5 L557.2 74.5" stroke="#0c2058" stroke-width="1" fill="none" opacity="0.8"/>
<!-- cone -->
<path d="M543.2 77 Q543.2 75.5 545 75.5 L566.5 75.5 Q568.3 75.5 568.4 77 C570 105 573.5 140 574.5 165.5 L537.8 165.5 C538.3 140 541 105 543.2 77Z" fill="url(#gCone)"/>
<!-- handle upper -->
<path d="M537.8 165 L574.6 165 L573 422 L537.4 422Z" fill="url(#gHandR)"/>
<path d="M537.8 165 L574.6 165 L573 422 L537.4 422Z" fill="url(#pKnurlR)"/>
<!-- smooth band -->
<path d="M537.4 421.5 L572.6 421.5 L572.2 494.5 L537 494.5Z" fill="url(#gBandR)"/>
<!-- handle lower -->
<path d="M537 494 L572.4 494 L571 750.5 L534.5 750.5Z" fill="url(#gHandR)"/>
<path d="M537 494 L572.4 494 L571 750.5 L534.5 750.5Z" fill="url(#pKnurlR)"/>
<!-- lower shaft -->
<path d="M534.5 750.5 L570.6 750.5 L570 826.5 L534.7 828Z" fill="url(#gShaftR)"/>
<path d="M535.6 828 L569.2 826.5 C568.5 860 566.5 890 564 915 C564.3 927 569 935 573.5 939.5 L573 960 L570.2 996 C556 991 540 972 533 955 C530 948 528.8 942 528.8 937.5 C535 933 539.3 927 539.5 915 C538.2 890 536.5 860 535.6 828Z" fill="url(#gShaftR2)"/>
<!-- blade face -->
<path d="M535.6 828 L569.2 826.5 C568.5 860 566.5 890 564 915 C564.3 927 569 935 573.5 939.5 L573 960 L570.2 996 C556 991 540 972 533 955 C530 948 528.8 942 528.8 937.5 C535 933 539.3 927 539.5 915 C538.2 890 536.5 860 535.6 828Z" fill="url(#gBlade)" mask="url(#mBladeTop)"/>
<path d="M535.6 828 L569.2 826.5 C568.5 860 566.5 890 564 915 C564.3 927 569 935 573.5 939.5 L573 960 L570.2 996 C556 991 540 972 533 955 C530 948 528.8 942 528.8 937.5 C535 933 539.3 927 539.5 915 C538.2 890 536.5 860 535.6 828Z" fill="url(#gBladeC)"/>
<path d="M538.6 925 C537.5 930 534 934 529.3 937.3" stroke="#b8f4f0" stroke-width="1.1" fill="none" opacity="0.9"/>
<path d="M565.2 925 C566.5 931 570 936 573.3 939.3" stroke="#c060e8" stroke-width="1.4" fill="none" opacity="0.9"/>
<path d="M570.6 941 L573.4 939.5 L573 960 L570.3 995Z" fill="#28b0c8" opacity="0.9"/>
<!-- blade rainbow edge -->
<path d="M528.8 937.5 C528.8 942 530 948 533 955 C540 972 556 991 570.2 996 L569.7 992 C557 987 543 970 536 954 C533.5 948 532.3 943 532 939.5Z" fill="url(#gBladeEdge)"/>
</g>

</svg>
</body>
</html>
